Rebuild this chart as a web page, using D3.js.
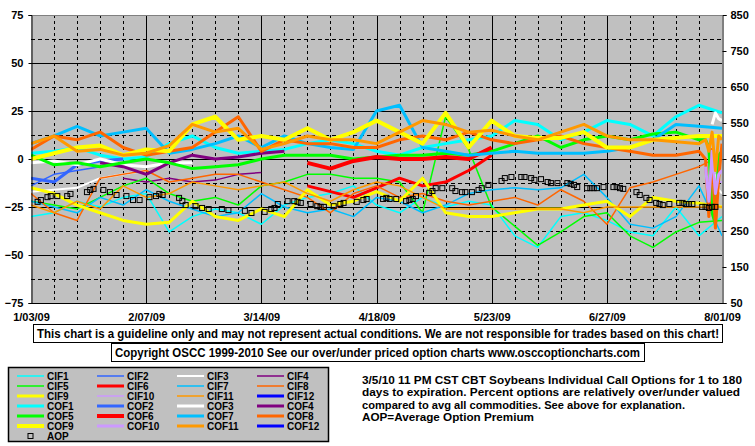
<!DOCTYPE html>
<html><head><meta charset="utf-8">
<script src="https://cdn.jsdelivr.net/npm/d3@7"></script>
<style>
body{margin:0;background:#fff}
svg{display:block}
text{font-family:"Liberation Sans",Arial,sans-serif;font-weight:bold;fill:#000}
</style>
</head><body>
<svg id="c" width="755" height="446"></svg>
<script>
// ---------------- DATA ----------------
const weeks = ["1/03/09","1/10/09","1/17/09","1/24/09","1/31/09","2/07/09","2/14/09","2/21/09","2/28/09","3/07/09","3/14/09","3/21/09","3/28/09","4/04/09","4/11/09","4/18/09","4/25/09","5/02/09","5/09/09","5/16/09","5/23/09","5/30/09","6/06/09","6/13/09","6/20/09","6/27/09","7/04/09","7/11/09","7/18/09","7/25/09","8/01/09"];
const xTickLabels = ["1/03/09","2/07/09","3/14/09","4/18/09","5/23/09","6/27/09","8/01/09"];
const leftTicks = [75,50,25,0,-25,-50,-75];
const rightTicks = [850,750,650,550,450,350,250,150,50];
const endDates = ["7/27/09","7/28/09","7/29/09","7/30/09","7/31/09"];

const N = null;
const CIF1 = [-30,-28,-22,-25,-20,-18,-38,-30,-26,-28,-34,-24,-20,-18,-14,-24,-28,-20,-25,-22,-24,-40,-46,-30,-28,-32,-38,-40,-25,-40,-30];
const CIF2 = [-14,-8,-6,-4,-2,N,N,N,N,N,N,N,N,N,N,N,N,N,N,N,N,N,N,N,N,N,N,N,N,N,N];
const CIF3 = [-17,-16,-15,-10,-8,-6,N,N,N,N,N,N,N,N,N,N,N,N,N,N,N,N,N,N,N,N,N,N,N,N,-18];
const CIF4 = [N,N,N,N,-10,-12,-10,-12,-11,-8,-7,N,N,N,N,N,N,N,N,N,N,N,N,N,N,N,N,N,N,N,N];
const CIF5 = [-22,-24,-26,-20,-14,-10,-18,-22,-20,-24,-14,-12,-8,-8,-10,-10,-12,-28,22,5,-25,-35,-45,-38,-30,-28,-40,-46,-38,-33,-32];
const CIF6 = [N,N,N,N,N,N,N,N,N,N,N,N,-14,-17,-20,-15,-10,-14,-12,-6,2,N,N,N,N,N,N,N,N,N,N];
const CIF7 = [-22,-25,-28,-20,-24,-16,-22,-26,-30,-28,-18,-25,-28,-26,-30,-20,-22,-28,-24,-18,-16,-15,-16,-15,-8,-20,-34,-36,-30,-14,-40];
const CIF8 = [-18,-28,-32,-10,-8,-6,-12,-10,-8,-8,-12,-16,-20,-28,-18,-14,-20,-18,-22,-24,-22,-20,-24,-16,-22,-34,-15,-12,-8,-4,2];
const CIF9 = [-15,-18,-24,-28,-32,-34,-33,-22,-30,-32,-26,-30,-16,-24,-22,-17,-22,-10,-28,-30,-30,-28,-26,-26,-24,-22,-30,-20,-22,-23,-25];
const CIF10 = [N,N,N,N,N,N,N,N,N,N,N,N,N,N,N,N,N,N,N,N,N,N,N,N,N,N,N,N,N,N,-12];
const CIF11 = [-24,-28,-22,-26,-14,-20,-18,-12,-14,-16,-14,-12,-18,-22,-16,-12,-14,-20,-26,-26,-26,-26,-26,-26,-28,-25,-25,-25,-25,-25,-25];
const CIF12 = [N,N,N,N,N,N,N,N,N,N,N,N,N,N,N,N,N,N,N,N,N,N,N,N,N,N,N,N,N,N,N];
const COF1 = [3,4,6,2,0,1,8,12,6,3,4,5,8,10,8,4,2,6,8,10,12,20,18,10,14,20,18,12,22,28,24];
const COF2 = [-10,-12,-3,-1,0,N,N,N,N,N,N,N,N,N,N,N,N,N,N,N,N,N,N,N,N,N,N,N,N,N,N];
const COF3 = [-2,-1,-3,0,-3,-4,-2,-2,N,N,N,N,N,N,N,N,N,N,N,N,N,N,N,N,N,N,N,N,N,N,20];
const COF4 = [N,N,N,-2,-4,-8,-2,2,0,1,3,4,N,N,N,N,N,N,N,N,N,N,N,N,N,N,N,N,N,N,N];
const COF5 = [2,-3,-2,-4,-2,0,-2,-5,-4,-3,0,2,2,2,0,1,2,2,3,2,4,8,12,6,10,12,10,13,14,10,4];
const COF6 = [N,N,N,N,N,N,N,N,N,N,N,N,-2,-5,-1,1,0,0,1,0,6,N,N,N,N,N,N,N,N,N,N];
const COF7 = [8,12,17,12,14,16,3,5,8,12,6,12,8,6,5,25,28,6,4,2,3,4,3,3,3,4,6,10,18,17,16];
const COF8 = [5,12,10,14,6,2,4,6,14,22,4,10,8,8,6,6,10,12,10,14,10,8,10,12,8,6,4,2,2,4,8];
const COF9 = [0,3,6,7,2,5,4,18,22,10,12,10,16,10,14,20,14,8,24,6,20,12,11,11,14,6,6,10,11,12,12];
const COF10 = [N,N,N,N,N,N,N,N,N,N,N,N,N,N,N,N,N,N,N,N,N,N,N,N,N,N,N,N,N,N,-6];
const COF11 = [8,12,4,5,2,3,7,18,14,16,5,8,12,10,10,8,14,20,18,14,15,12,10,14,18,12,10,10,9,8,10];
const COF12 = [N,N,N,N,N,N,N,N,N,N,N,N,N,N,N,N,N,N,N,N,N,N,N,N,N,N,N,N,N,N,N];

// last-week daily readings (7/27 .. 7/31)
const CIF3_end = [N,N,N,-8,-16];
const CIF10_end = [-10,-24,-6,-16,-12];
const COF3_end = [N,N,18,24,21];
const COF5_end = [10,6,-28,-34,2];
const COF8_end = [0,-30,5,-36,-10];
const COF10_end = [-4,-22,4,-18,-8];
const COF11_end = [10,4,14,-6,12];

const AOPdates = [
 "1/05/09","1/06/09","1/08/09","1/09/09","1/11/09","1/14/09","1/15/09","1/20/09","1/21/09","1/22/09","1/25/09","1/27/09","1/29/09",
 "2/01/09","2/03/09","2/05/09","2/08/09","2/10/09","2/11/09","2/12/09","2/17/09","2/18/09","2/19/09","2/22/09","2/24/09","2/26/09",
 "3/02/09","3/04/09","3/09/09","3/11/09","3/15/09","3/17/09","3/18/09","3/19/09","3/22/09","3/24/09","3/25/09","3/26/09","3/29/09","3/31/09",
 "4/01/09","4/02/09","4/05/09","4/07/09","4/08/09","4/12/09","4/14/09","4/15/09","4/20/09","4/21/09","4/22/09","4/24/09","4/27/09","4/28/09","4/29/09","4/30/09",
 "5/04/09","5/05/09","5/06/09","5/08/09","5/11/09","5/12/09","5/14/09","5/15/09","5/17/09","5/19/09","5/20/09","5/22/09","5/26/09","5/27/09","5/29/09",
 "6/01/09","6/02/09","6/04/09","6/05/09","6/07/09","6/09/09","6/10/09","6/12/09","6/15/09","6/16/09","6/17/09","6/18/09","6/21/09","6/22/09","6/23/09","6/24/09","6/26/09","6/29/09","6/30/09",
 "7/01/09","7/02/09","7/06/09","7/07/09","7/09/09","7/10/09","7/12/09","7/13/09","7/14/09","7/16/09","7/19/09","7/20/09","7/21/09","7/22/09","7/23/09","7/26/09","7/27/09","7/28/09","7/29/09","7/30/09"];
const AOP = [
 331,336,344,347,347,347,353,358,364,367,364,358,350,
 347,336,336,344,347,353,350,342,333,322,319,314,311,
 311,308,306,300,303,311,314,325,333,333,331,328,325,319,
 317,317,319,325,328,331,336,339,339,342,339,339,333,336,339,347,
 356,361,369,369,369,361,358,358,358,364,369,378,389,397,400,
 400,400,397,392,394,386,383,383,383,381,378,372,369,369,369,369,372,372,372,
 369,367,358,350,342,336,328,325,322,325,328,328,325,325,325,317,317,314,317,317];

const names = ["CIF1","CIF2","CIF3","CIF4","CIF5","CIF6","CIF7","CIF8","CIF9","CIF10","CIF11","CIF12",
               "COF1","COF2","COF3","COF4","COF5","COF6","COF7","COF8","COF9","COF10","COF11","COF12"];
const seriesValues = [CIF1,CIF2,CIF3,CIF4,CIF5,CIF6,CIF7,CIF8,CIF9,CIF10,CIF11,CIF12,
                      COF1,COF2,COF3,COF4,COF5,COF6,COF7,COF8,COF9,COF10,COF11,COF12];
const endValues = {CIF3:CIF3_end, CIF10:CIF10_end, COF3:COF3_end, COF5:COF5_end, COF8:COF8_end, COF10:COF10_end, COF11:COF11_end};
const baseColors = ["#00FFFF","#3366FF","#FFFFFF","#800080","#00FF00","#FF0000","#00BFFF","#FF6600","#FFFF00","#CC99FF","#FF9900","#0000FF"];
const cifWidths = [1.5,1.5,2,1.5,1.5,3,1.5,1.5,3,1.5,1.5,3];
const cofWidths = [3,3,3,3,3,4,3,3,4,3,3,3];

// ---------------- CHART ----------------
const parse = d3.timeParse("%m/%d/%y");
const svg = d3.select("#c");
const L = 31, R = 722, T = 15, B = 303;
const x = d3.scaleTime().domain([parse(xTickLabels[0]), parse(xTickLabels[xTickLabels.length-1])]).range([L, R]);
const y = d3.scaleLinear().domain([-75, 75]).range([B, T]);
const yR = d3.scaleLinear().domain([50, 850]).range([B, T]);

svg.append("rect").attr("x", L).attr("y", T).attr("width", R-L).attr("height", B-T).attr("fill", "#C0C0C0");

const grid = svg.append("g").attr("shape-rendering", "crispEdges");
const majorSet = new Set(xTickLabels);
weeks.forEach(w => {
  if (w === xTickLabels[0] || w === xTickLabels[xTickLabels.length-1]) return;
  const xp = Math.round(x(parse(w))) + 0.5;
  grid.append("line").attr("x1", xp).attr("x2", xp).attr("y1", T).attr("y2", B)
    .attr("stroke", "#000").attr("stroke-width", 1)
    .attr("stroke-dasharray", majorSet.has(w) ? null : "3,3");
});
d3.range(-62.5, 75, 12.5).forEach(v => {
  const yp = Math.round(y(v)) + 0.5;
  grid.append("line").attr("x1", L).attr("x2", R).attr("y1", yp).attr("y2", yp)
    .attr("stroke", "#000").attr("stroke-width", 1)
    .attr("stroke-dasharray", v % 25 === 0 ? null : "4,3");
});

svg.append("defs").append("clipPath").attr("id", "clip")
  .append("rect").attr("x", L).attr("y", T).attr("width", R-L).attr("height", B-T);

const plot = svg.append("g").attr("clip-path", "url(#clip)");
const line = d3.line().defined(d => d[1] !== null).x(d => x(d[0])).y(d => y(d[1]));

names.forEach((name, i) => {
  let pts = weeks.map((w, j) => [parse(w), seriesValues[i][j]]);
  if (endValues[name]) {
    endDates.forEach((d, j) => { if (endValues[name][j] !== null) pts.push([parse(d), endValues[name][j]]); });
    pts.sort((a, b) => a[0] - b[0]);
    pts = pts.filter((p, k) => p[1] !== null || k < pts.length - 6);
  }
  const isCOF = i >= 12;
  const ci = i % 12;
  plot.append("path").datum(pts)
    .attr("fill", "none")
    .attr("stroke", baseColors[ci])
    .attr("stroke-width", isCOF ? cofWidths[ci] : cifWidths[ci])
    .attr("stroke-linejoin", "round")
    .attr("d", line);
});

plot.selectAll("rect.aop").data(AOPdates.map((d, i) => [parse(d), AOP[i]]))
  .enter().append("rect").attr("class", "aop")
  .attr("x", d => x(d[0]) - 2.5).attr("y", d => yR(d[1]) - 2.5)
  .attr("width", 5).attr("height", 5)
  .attr("fill", "none").attr("stroke", "#000").attr("stroke-width", 1);

// frame
svg.append("line").attr("x1", L).attr("x2", R).attr("y1", T+0.5).attr("y2", T+0.5).attr("stroke", "#808080");
svg.append("line").attr("x1", L).attr("x2", R+1).attr("y1", B+0.5).attr("y2", B+0.5).attr("stroke", "#000");

// axes
const axL = svg.append("g").attr("transform", `translate(${L+0.5},0)`)
  .call(d3.axisLeft(y).tickValues(leftTicks).tickSize(3).tickPadding(5).tickFormat(d3.format("d")));
const axR = svg.append("g").attr("transform", `translate(${R+0.5},0)`)
  .call(d3.axisRight(yR).tickValues(rightTicks).tickSize(4).tickPadding(4).tickFormat(d3.format("d")));
const axB = svg.append("g").attr("transform", `translate(0,${B})`)
  .call(d3.axisBottom(x).tickValues(xTickLabels.map(parse)).tickSize(0).tickPadding(10).tickFormat(d3.timeFormat("%-m/%d/%y")));
[axL, axR, axB].forEach(a => {
  a.selectAll("text").attr("font-size", 11).attr("font-family", "Liberation Sans, Arial, sans-serif").attr("font-weight", "bold").attr("fill", "#000");
  a.selectAll("path.domain").attr("stroke", "#000");
  a.selectAll(".tick line").attr("stroke", "#000");
});
axB.select("path.domain").remove();

// disclaimer boxes
svg.append("rect").attr("x", 33.5).attr("y", 324.5).attr("width", 689).attr("height", 18).attr("fill", "#fff").attr("stroke", "#000");
svg.append("text").attr("x", 37).attr("y", 338).attr("font-size", 12)
  .attr("textLength", 682).attr("lengthAdjust", "spacingAndGlyphs")
  .text("This chart is a guideline only and may not represent actual conditions. We are not responsible for trades based on this chart!");
svg.append("rect").attr("x", 111.5).attr("y", 343.5).attr("width", 533).attr("height", 18).attr("fill", "#fff").attr("stroke", "#000");
svg.append("text").attr("x", 115).attr("y", 357).attr("font-size", 12)
  .attr("textLength", 525).attr("lengthAdjust", "spacingAndGlyphs")
  .text("Copyright OSCC 1999-2010 See our over/under priced option charts www.osccoptioncharts.com");

// legend
svg.append("rect").attr("x", 8.5).attr("y", 367.5).attr("width", 320).attr("height", 74).attr("fill", "#C0C0C0").attr("stroke", "#000").attr("stroke-width", 1.5);
const lg = svg.append("g");
names.forEach((name, i) => {
  const col = i % 4, row = Math.floor(i / 4);
  const lx = 17 + col * 80, ly = 376 + row * 10;
  const ci = i % 12, isCOF = i >= 12;
  lg.append("line").attr("x1", lx).attr("x2", lx + 27).attr("y1", ly).attr("y2", ly)
    .attr("stroke", baseColors[ci]).attr("stroke-width", isCOF ? cofWidths[ci] : cifWidths[ci]);
  lg.append("text").attr("x", lx + 30).attr("y", ly + 3.5).attr("font-size", 10).text(name);
});
lg.append("rect").attr("x", 28).attr("y", 433.5).attr("width", 5).attr("height", 5).attr("fill", "none").attr("stroke", "#000");
lg.append("text").attr("x", 47).attr("y", 439.5).attr("font-size", 10).text("AOP");

// description
const desc = ["3/5/10 11 PM CST CBT Soybeans Individual Call Options for 1 to 180",
              "days to expiration. Percent options are relatively over/under valued",
              "compared to avg all commodities. See above for explanation.",
              "AOP=Average Option Premium"];
const descW = [380, 378, 323, 172];
desc.forEach((t, i) => {
  svg.append("text").attr("x", 362).attr("y", 384 + i * 12.3).attr("font-size", 11)
    .attr("textLength", descW[i]).attr("lengthAdjust", "spacingAndGlyphs").text(t);
});
</script>
</body></html>
